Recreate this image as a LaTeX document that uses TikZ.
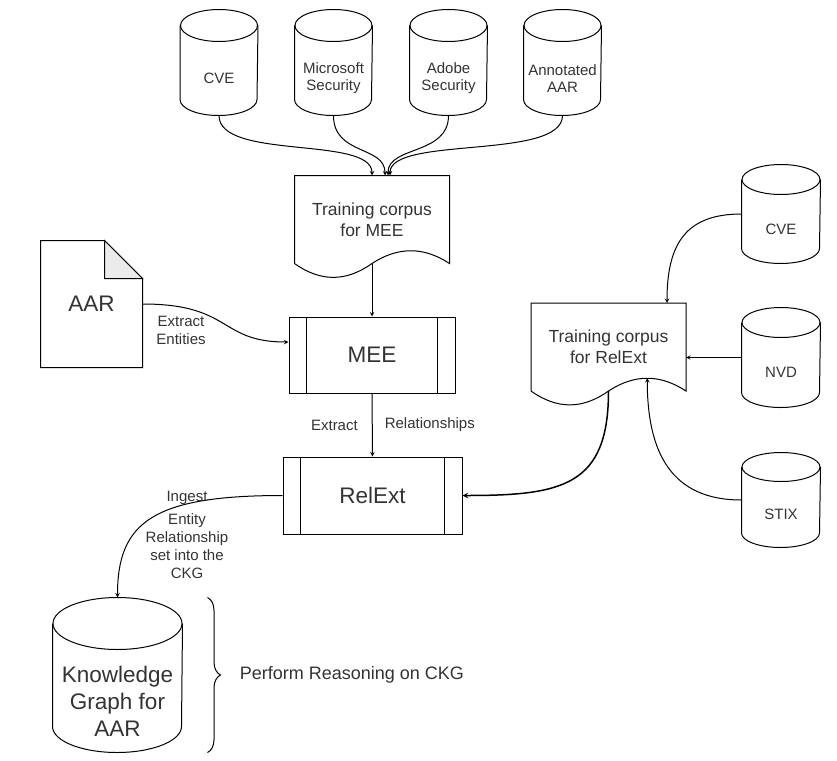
\documentclass[tikz,border=0pt]{standalone}
\usepackage{fontspec}
\setmainfont{Liberation Sans}
\usetikzlibrary{calc,arrows,positioning,decorations.pathreplacing}
\definecolor{foldgray}{RGB}{235,235,235}
\definecolor{inkgray}{RGB}{51,51,51}
\tikzset{
  dbbox/.style={rectangle, minimum width=77pt, minimum height=73pt, align=center, inner sep=2pt, font=\fontsize{15}{17}\selectfont},
  procbox/.style={draw, rectangle, minimum width=166pt, minimum height=76pt, font=\fontsize{22.5}{26}\selectfont,
    path picture={
      \draw[line width=1pt] ([xshift=17.5pt]path picture bounding box.north west) -- ([xshift=17.5pt]path picture bounding box.south west);
      \draw[line width=1pt] ([xshift=-17.5pt]path picture bounding box.north east) -- ([xshift=-17.5pt]path picture bounding box.south east);
    }},
  docbox/.style={rectangle, minimum width=154pt, minimum height=87pt, align=center, font=\fontsize{17.5}{21}\selectfont},
  notebox/.style={rectangle, minimum width=101pt, minimum height=126pt, font=\fontsize{22.5}{26}\selectfont},
  lbl/.style={font=\fontsize{15}{18}\selectfont, align=center, inner sep=2pt},
  link/.style={>=stealth, ->, line width=1pt}
}
% document outline with wavy bottom
\newcommand{\docwave}[1]{%
  \draw (#1.south west) .. controls +(26,18.5) and +(-26,18.5) .. (#1.south)
    .. controls +(26,-17) and +(-26,-17) .. (#1.south east) -- (#1.north east) -- (#1.north west) -- cycle;
  \coordinate (#1-crest) at ($(#1.south east)!0.25!(#1.south west)+(0,-13)$);}
% cylinder round a body node: name, half width, cap radius
\newcommand{\dbshape}[3]{%
  \draw ($(#1.north west)+(0,-#3)$) -- ($(#1.south west)+(0,-#3)$)
    arc[start angle=180, end angle=360, x radius=#2pt, y radius=#3pt] -- ($(#1.north east)+(0,-#3)$);
  \draw ($(#1.north)+(0,-#3)$) ellipse [x radius=#2pt, y radius=#3pt];
  \coordinate (#1-top) at ($(#1.north)+(0,-2*#3)$);
  \coordinate (#1-left) at ($(#1.west)+(0,-#3)$);}

\begin{document}
\begin{tikzpicture}[x=1pt, y=-1pt, line width=1pt, text=inkgray]
  \useasboundingbox (0,0) rectangle (837,760);

  % sources for the MEE corpus
  \node [dbbox] (tcve) at (219,78.5) {CVE};
  \node [dbbox] (tms) at (333.5,78.5) {Microsoft\\Security};
  \node [dbbox] (tadobe) at (448.5,78.5) {Adobe\\Security};
  \node [dbbox] (tann) at (562.5,78.5) {Annotated\\AAR};
  \dbshape{tcve}{38.5}{16}
  \dbshape{tms}{38.5}{16}
  \dbshape{tadobe}{38.5}{16}
  \dbshape{tann}{38.5}{16}

  \node [docbox] (mcorp) at (372,219.5) {Training corpus\\for MEE};
  \docwave{mcorp}

  \node [procbox] (mee) at (372,355) {MEE};
  \node [procbox, minimum width=179pt, minimum height=77pt] (relext) at (372.5,495.5) {RelExt};

  % report
  \node [notebox] (aar) at (91.5,304) {AAR};
  \draw (aar.north west) -- ($(aar.north east)+(-38,0)$) -- ($(aar.north east)+(0,38)$) -- (aar.south east) -- (aar.south west) -- cycle;
  \draw [fill=foldgray] ($(aar.north east)+(-38,0)$) -- ($(aar.north east)+(-38,38)$) -- ($(aar.north east)+(0,38)$) -- cycle;

  % sources for the RelExt corpus
  \node [docbox] (rcorp) at (608.5,347) {Training corpus\\for RelExt};
  \docwave{rcorp}
  \node [dbbox, minimum width=78pt, minimum height=68pt] (rcve) at (781,229) {CVE};
  \node [dbbox, minimum width=78pt, minimum height=69pt] (rnvd) at (781,372.5) {NVD};
  \node [dbbox, minimum width=78pt, minimum height=65pt] (rstix) at (781,514.5) {STIX};
  \dbshape{rcve}{39}{15}
  \dbshape{rnvd}{39}{15}
  \dbshape{rstix}{39}{14.5}

  \node [dbbox, minimum width=129pt, minimum height=102pt, font=\fontsize{22.5}{27}\selectfont] (kg) at (117.5,701) {Knowledge\\Graph for\\AAR};
  \dbshape{kg}{64.5}{26}

  % connectors
  \draw [link] (tcve.south) .. controls +(0,45) and +(0,-40) .. (mcorp.north);
  \draw [link] (tms.south) .. controls +(0,40) and +(0,-30) .. ([xshift=13pt]mcorp.north);
  \draw [link] (tadobe.south) .. controls +(0,40) and +(0,-30) .. ([xshift=16pt]mcorp.north);
  \draw [link] (tann.south) .. controls +(0,45) and +(0,-40) .. ([xshift=18pt]mcorp.north);
  \draw [link] (mcorp.south) -- (mee.north);

  \draw [link] (aar.east) .. controls +(90,0) and +(-70,0) .. ([yshift=13pt]mee.west);
  \node [lbl] (lentity) at (181,330) {Extract\\Entities};

  \draw [link] (mee.south) -- (relext.north) node [midway, lbl, left=12pt] (lext) {Extract} node [midway, lbl, right=10pt] (lrel) {Relationships};

  \draw [link] (rcve-left) .. controls +(-55,0) and +(0,-60) .. ([xshift=58.5pt]rcorp.north);
  \draw [link] (rnvd-left) -- (rnvd-left -| rcorp.east);
  \draw [link] (rstix-left) .. controls +(-70,0) and +(0,75) .. (rcorp-crest);
  \draw [link, line width=1.5pt] (rcorp.south) .. controls +(0,95) and +(100,0) .. (relext.east);

  \draw [link] (relext.west) .. controls +(-130,0) and +(0,-75) .. (kg-top);
  \node [lbl] (lingest) at (187,534.5) {Ingest\\[5pt]Entity\\Relationship\\set into the\\CKG};

  % reasoning brace
  \draw [decorate, decoration={brace, amplitude=13pt}] ($(kg.east |- kg-top)+(25,0)$) -- ($(kg.east |- kg.south)+(25,0)$);
  \node [anchor=west, font=\fontsize{18}{21}\selectfont] (reason) at (236,675) {Perform Reasoning on CKG};
\end{tikzpicture}
\end{document}
